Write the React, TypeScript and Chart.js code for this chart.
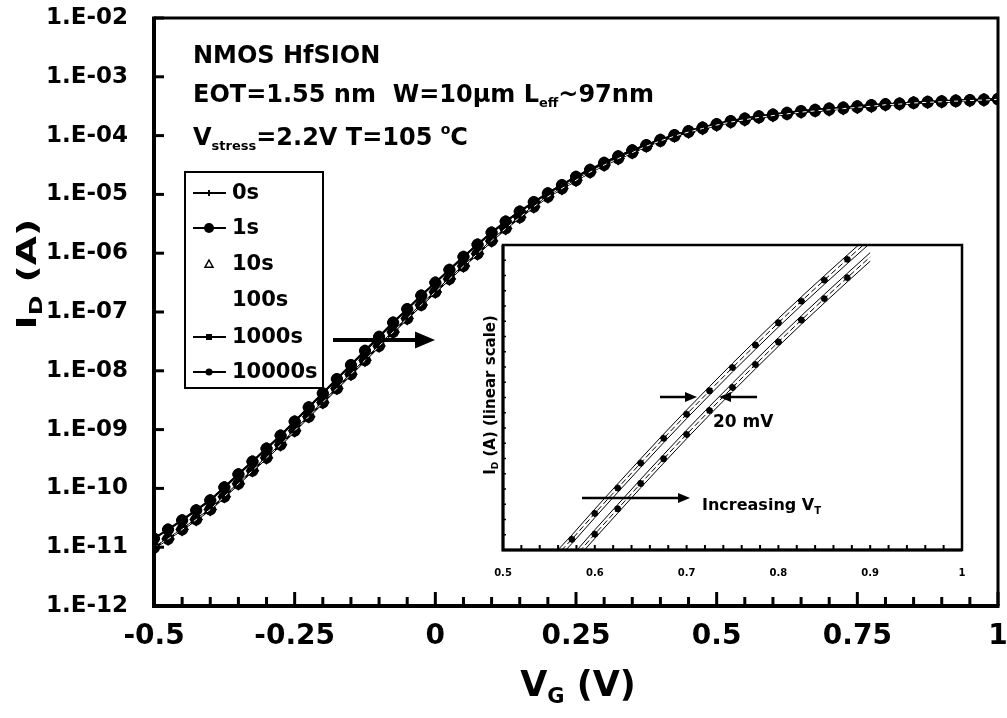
import React, { useEffect, useRef } from 'react';
import { Chart, registerables } from 'chart.js';

Chart.register(...registerables);

const FONT = '"DejaVu Sans", "Liberation Sans", sans-serif';

// ---------- main chart data ----------
const vg = [
  -0.5, -0.475, -0.45, -0.425, -0.4, -0.375, -0.35, -0.325, -0.3, -0.275,
  -0.25, -0.225, -0.2, -0.175, -0.15, -0.125, -0.1, -0.075, -0.05, -0.025,
  0, 0.025, 0.05, 0.075, 0.1, 0.125, 0.15, 0.175, 0.2, 0.225,
  0.25, 0.275, 0.3, 0.325, 0.35, 0.375, 0.4, 0.425, 0.45, 0.475,
  0.5, 0.525, 0.55, 0.575, 0.6, 0.625, 0.65, 0.675, 0.7, 0.725,
  0.75, 0.775, 0.8, 0.825, 0.85, 0.875, 0.9, 0.925, 0.95, 0.975, 1.0,
];

// before stress (0s, 1s, 10s)
const idFresh = [
  1.41e-11, 2.0e-11, 2.88e-11, 4.27e-11, 6.31e-11, 1.05e-10, 1.74e-10, 2.88e-10, 4.79e-10, 7.94e-10,
  1.38e-9, 2.4e-9, 4.17e-9, 7.24e-9, 1.26e-8, 2.19e-8, 3.8e-8, 6.61e-8, 1.12e-7, 1.91e-7,
  3.16e-7, 5.25e-7, 8.71e-7, 1.41e-6, 2.24e-6, 3.47e-6, 5.13e-6, 7.41e-6, 1.05e-5, 1.45e-5,
  2.0e-5, 2.63e-5, 3.47e-5, 4.47e-5, 5.62e-5, 6.92e-5, 8.51e-5, 1.02e-4, 1.2e-4, 1.38e-4,
  1.58e-4, 1.78e-4, 1.95e-4, 2.14e-4, 2.29e-4, 2.45e-4, 2.63e-4, 2.75e-4, 2.88e-4, 3.02e-4,
  3.16e-4, 3.31e-4, 3.43e-4, 3.51e-4, 3.67e-4, 3.76e-4, 3.85e-4, 3.94e-4, 4.03e-4, 4.12e-4, 4.22e-4,
];

// after stress (100s, 1000s, 10000s)
const idStressed = [
  9.77e-12, 1.38e-11, 2.0e-11, 2.95e-11, 4.37e-11, 7.24e-11, 1.2e-10, 2.0e-10, 3.31e-10, 5.5e-10,
  9.55e-10, 1.66e-9, 2.88e-9, 5.01e-9, 8.71e-9, 1.51e-8, 2.63e-8, 4.57e-8, 7.76e-8, 1.32e-7,
  2.19e-7, 3.63e-7, 6.03e-7, 9.77e-7, 1.62e-6, 2.63e-6, 4.07e-6, 6.17e-6, 9.12e-6, 1.26e-5,
  1.74e-5, 2.4e-5, 3.16e-5, 4.07e-5, 5.13e-5, 6.61e-5, 8.13e-5, 9.77e-5, 1.15e-4, 1.32e-4,
  1.51e-4, 1.7e-4, 1.86e-4, 2.04e-4, 2.19e-4, 2.34e-4, 2.51e-4, 2.63e-4, 2.75e-4, 2.88e-4,
  3.02e-4, 3.16e-4, 3.35e-4, 3.43e-4, 3.59e-4, 3.68e-4, 3.76e-4, 3.85e-4, 3.94e-4, 4.03e-4, 4.12e-4,
];

const seriesNames = ['0s', '1s', '10s', '100s', '1000s', '10000s'];

const yTickValues = [1e-12, 1e-11, 1e-10, 1e-9, 1e-8, 1e-7, 1e-6, 1e-5, 1e-4, 1e-3, 1e-2];
const yTickLabels = ['1.E-12', '1.E-11', '1.E-10', '1.E-09', '1.E-08', '1.E-07', '1.E-06', '1.E-05', '1.E-04', '1.E-03', '1.E-02'];
const xTickValues = [-0.5, -0.25, 0, 0.25, 0.5, 0.75, 1];
const xTickLabels = ['-0.5', '-0.25', '0', '0.25', '0.5', '0.75', '1'];

// ---------- inset data (linear scale, arbitrary units) ----------
const insetVg = [0.55, 0.575, 0.6, 0.625, 0.65, 0.675, 0.7, 0.725, 0.75, 0.775, 0.8, 0.825, 0.85, 0.875, 0.9];
const insetFreshUpper = [-3.1, 4.9, 13.4, 21.7, 29.9, 38.0, 45.9, 53.6, 61.2, 68.6, 75.9, 83.0, 89.9, 96.7, 103.4];
const insetFresh = [-4.5, 3.5, 12.0, 20.3, 28.5, 36.6, 44.5, 52.2, 59.8, 67.2, 74.5, 81.6, 88.5, 95.3, 102.0];
const insetFreshLower = [-5.9, 2.1, 10.6, 18.9, 27.1, 35.2, 43.1, 50.8, 58.4, 65.8, 73.1, 80.2, 87.1, 93.9, 100.6];
const insetStressedUpper = [-10.1, -1.9, 6.6, 14.9, 23.2, 31.3, 39.3, 47.1, 54.7, 62.2, 69.6, 76.8, 83.8, 90.7, 97.5];
const insetStressed = [-11.5, -3.3, 5.2, 13.5, 21.8, 29.9, 37.9, 45.7, 53.3, 60.8, 68.2, 75.4, 82.4, 89.3, 96.1];
const insetStressedLower = [-12.9, -4.7, 3.8, 12.1, 20.4, 28.5, 36.5, 44.3, 51.9, 59.4, 66.8, 74.0, 81.0, 87.9, 94.7];
const insetTickValues = [0.5, 0.6, 0.7, 0.8, 0.9, 1];
const insetTickLabels = ['0.5', '0.6', '0.7', '0.8', '0.9', '1'];

type Run = { t: string; size: number; dy?: number };

function measureRuns(ctx: CanvasRenderingContext2D, runs: Run[]) {
  let w = 0;
  for (const r of runs) {
    ctx.font = `bold ${r.size}px ${FONT}`;
    w += ctx.measureText(r.t).width;
  }
  return w;
}

function drawRuns(ctx: CanvasRenderingContext2D, x: number, y: number, runs: Run[]) {
  let cx = x;
  for (const r of runs) {
    ctx.font = `bold ${r.size}px ${FONT}`;
    ctx.fillText(r.t, cx, y + (r.dy || 0));
    cx += ctx.measureText(r.t).width;
  }
  return cx - x;
}

function arrow(ctx: CanvasRenderingContext2D, x1: number, x2: number, y: number, lw: number, hl: number, hw: number) {
  const dir = x2 > x1 ? 1 : -1;
  ctx.lineWidth = lw;
  ctx.beginPath();
  ctx.moveTo(x1, y);
  ctx.lineTo(x2 - dir * hl * 0.8, y);
  ctx.stroke();
  ctx.beginPath();
  ctx.moveTo(x2, y);
  ctx.lineTo(x2 - dir * hl, y - hw / 2);
  ctx.lineTo(x2 - dir * hl, y + hw / 2);
  ctx.closePath();
  ctx.fill();
}

function marker(ctx: CanvasRenderingContext2D, style: string, x: number, y: number, r: number) {
  ctx.save();
  ctx.fillStyle = '#000';
  ctx.strokeStyle = '#000';
  ctx.lineWidth = 2;
  if (style === 'circle') {
    ctx.beginPath();
    ctx.arc(x, y, r, 0, Math.PI * 2);
    ctx.fill();
  } else if (style === 'cross') {
    ctx.beginPath();
    ctx.moveTo(x - r, y);
    ctx.lineTo(x + r, y);
    ctx.moveTo(x, y - r);
    ctx.lineTo(x, y + r);
    ctx.stroke();
  } else if (style === 'rect') {
    ctx.fillRect(x - r, y - r, 2 * r, 2 * r);
  } else if (style === 'triangle') {
    ctx.lineWidth = 1.5;
    ctx.beginPath();
    ctx.moveTo(x, y - r);
    ctx.lineTo(x + r, y + r * 0.8);
    ctx.lineTo(x - r, y + r * 0.8);
    ctx.closePath();
    ctx.stroke();
  }
  ctx.restore();
}

const legendItems = [
  { line: true, style: 'cross', r: 3 },
  { line: true, style: 'circle', r: 5 },
  { line: false, style: 'triangle', r: 4 },
  { line: false, style: 'none', r: 0 },
  { line: true, style: 'rect', r: 3 },
  { line: true, style: 'circle', r: 3.5 },
];
const legendRowsY = [193, 228, 264, 300, 337, 372];

const mainDecor = {
  id: 'mainDecor',
  afterDraw(chart: any) {
    const ctx: CanvasRenderingContext2D = chart.ctx;
    const { left, right, top, bottom } = chart.chartArea;
    const xs = chart.scales.x;
    const ys = chart.scales.y;
    ctx.save();
    ctx.fillStyle = '#000';
    ctx.strokeStyle = '#000';
    ctx.lineCap = 'butt';

    // frame
    ctx.lineWidth = 3;
    ctx.beginPath();
    ctx.moveTo(left, top);
    ctx.lineTo(right, top);
    ctx.lineTo(right, bottom);
    ctx.stroke();
    ctx.lineWidth = 4;
    ctx.beginPath();
    ctx.moveTo(left, top - 1.5);
    ctx.lineTo(left, bottom);
    ctx.lineTo(right + 1.5, bottom);
    ctx.stroke();

    // y ticks (inward)
    ctx.lineWidth = 3;
    for (const v of yTickValues) {
      const py = ys.getPixelForValue(v);
      ctx.beginPath();
      ctx.moveTo(left, py);
      ctx.lineTo(left + 10, py);
      ctx.stroke();
    }
    // x ticks (inward), every 0.05 V
    for (let i = 0; i <= 30; i++) {
      const v = -0.5 + i * 0.05;
      const px = xs.getPixelForValue(v);
      const len = i % 5 === 0 ? 14 : 9;
      ctx.beginPath();
      ctx.moveTo(px, bottom);
      ctx.lineTo(px, bottom - len);
      ctx.stroke();
    }

    ctx.textBaseline = 'alphabetic';
    ctx.textAlign = 'left';

    // x title
    const xt: Run[] = [
      { t: 'V', size: 35 },
      { t: 'G', size: 21, dy: 7 },
      { t: ' (V)', size: 35 },
    ];
    const xw = measureRuns(ctx, xt);
    drawRuns(ctx, 578 - xw / 2, 696, xt);

    // y title (rotated, stretched along the text direction as in the original)
    const yt: Run[] = [
      { t: 'I', size: 27 },
      { t: 'D', size: 17, dy: 6 },
      { t: ' (A)', size: 27 },
    ];
    const yw = measureRuns(ctx, yt);
    ctx.save();
    ctx.translate(26, 274);
    ctx.rotate(-Math.PI / 2);
    ctx.scale(1.4, 1);
    drawRuns(ctx, -yw / 2, 10, yt);
    ctx.restore();

    // annotations
    drawRuns(ctx, 193, 63, [{ t: 'NMOS HfSION', size: 24 }]);
    drawRuns(ctx, 193, 102, [
      { t: 'EOT=1.55 nm  W=10\u03bcm L', size: 24 },
      { t: 'eff', size: 13, dy: 5 },
      { t: '~97nm', size: 24 },
    ]);
    drawRuns(ctx, 193, 145, [
      { t: 'V', size: 24 },
      { t: 'stress', size: 13, dy: 5 },
      { t: '=2.2V T=105 ', size: 24 },
      { t: 'o', size: 14, dy: -11 },
      { t: 'C', size: 24 },
    ]);

    // legend
    ctx.fillStyle = '#fff';
    ctx.fillRect(185, 172, 138, 216);
    ctx.fillStyle = '#000';
    ctx.lineWidth = 2;
    ctx.strokeRect(185, 172, 138, 216);
    seriesNames.forEach((name, i) => {
      const it = legendItems[i];
      const y = legendRowsY[i];
      if (it.line) {
        ctx.lineWidth = 2;
        ctx.beginPath();
        ctx.moveTo(193, y);
        ctx.lineTo(226, y);
        ctx.stroke();
      }
      marker(ctx, it.style, 209, y, it.r);
      ctx.textBaseline = 'middle';
      drawRuns(ctx, 232, y + 1, [{ t: name, size: 21 }]);
      ctx.textBaseline = 'alphabetic';
    });

    // arrow pointing to the inset region
    ctx.strokeStyle = '#000';
    arrow(ctx, 333, 435, 340, 4, 20, 17);

    ctx.restore();
  },
};

const insetDecor = {
  id: 'insetDecor',
  afterDraw(chart: any) {
    const ctx: CanvasRenderingContext2D = chart.ctx;
    const { left, right, top, bottom } = chart.chartArea;
    const xs = chart.scales.x;
    const ys = chart.scales.y;
    ctx.save();
    ctx.fillStyle = '#000';
    ctx.strokeStyle = '#000';

    ctx.lineWidth = 2.5;
    ctx.strokeRect(left, top, right - left, bottom - top);
    ctx.lineWidth = 3;
    ctx.beginPath();
    ctx.moveTo(left, top);
    ctx.lineTo(left, bottom);
    ctx.lineTo(right, bottom);
    ctx.stroke();

    ctx.lineWidth = 2;
    for (let i = 0; i <= 25; i++) {
      const px = xs.getPixelForValue(0.5 + i * 0.02);
      ctx.beginPath();
      ctx.moveTo(px, bottom);
      ctx.lineTo(px, bottom - 5);
      ctx.stroke();
    }
    ctx.lineWidth = 1.5;
    for (let i = 0; i <= 20; i++) {
      const py = ys.getPixelForValue(i * 5);
      ctx.beginPath();
      ctx.moveTo(left, py);
      ctx.lineTo(left + 3, py);
      ctx.stroke();
    }

    ctx.textBaseline = 'alphabetic';
    // y title rotated
    const yt: Run[] = [
      { t: 'I', size: 15 },
      { t: 'D', size: 9, dy: 3 },
      { t: ' (A) (linear scale)', size: 15 },
    ];
    const yw = measureRuns(ctx, yt);
    ctx.save();
    ctx.translate(20, 160);
    ctx.rotate(-Math.PI / 2);
    drawRuns(ctx, -yw / 2, 5, yt);
    ctx.restore();

    // 20 mV arrows
    arrow(ctx, 190, 227, 162, 2.5, 12, 10);
    arrow(ctx, 287, 249, 162, 2.5, 12, 10);
    drawRuns(ctx, 243, 192, [{ t: '20 mV', size: 17 }]);

    // increasing VT
    arrow(ctx, 112, 220, 263, 2.5, 12, 10);
    drawRuns(ctx, 232, 275, [
      { t: 'Increasing V', size: 16 },
      { t: 'T', size: 10, dy: 4 },
    ]);
    ctx.restore();
  },
};

function MainChart() {
  const ref = useRef<HTMLCanvasElement>(null);
  useEffect(() => {
    const pts = (ys: number[]) => vg.map((x, i) => ({ x, y: ys[i] }));
    const chart = new Chart(ref.current as HTMLCanvasElement, {
      type: 'line',
      data: {
        datasets: [
          { label: seriesNames[0], data: pts(idFresh), borderColor: '#000', backgroundColor: '#000', borderWidth: 2, pointStyle: 'cross', pointRadius: 6, pointBorderWidth: 3, order: 4 },
          { label: seriesNames[1], data: pts(idFresh), borderColor: '#000', backgroundColor: '#000', borderWidth: 2, pointStyle: 'circle', pointRadius: 5, order: 3 },
          { label: seriesNames[2], data: pts(idFresh), showLine: false, borderColor: '#000', backgroundColor: '#fff', pointStyle: 'triangle', pointRadius: 4, pointBorderWidth: 1.5, order: 6 },
          { label: seriesNames[3], data: pts(idStressed), borderColor: '#fff', backgroundColor: '#fff', borderWidth: 1, borderDash: [4, 4], pointRadius: 0, order: 0 },
          { label: seriesNames[4], data: pts(idStressed), borderColor: '#000', backgroundColor: '#000', borderWidth: 2, pointStyle: 'rectRot', pointRadius: 5.5, order: 2 },
          { label: seriesNames[5], data: pts(idStressed), borderColor: '#000', backgroundColor: '#000', borderWidth: 2, pointStyle: 'circle', pointRadius: 5, order: 1 },
        ],
      },
      options: {
        animation: false,
        responsive: false,
        devicePixelRatio: 1,
        events: [],
        layout: { padding: { top: 18, right: 4, left: 0, bottom: 0 } },
        plugins: { legend: { display: false }, tooltip: { enabled: false } },
        scales: {
          x: {
            type: 'linear',
            min: -0.5,
            max: 1,
            grid: { display: false, drawTicks: false },
            border: { display: false },
            afterBuildTicks: (s: any) => { s.ticks = xTickValues.map((v) => ({ value: v })); },
            afterFit: (s: any) => { s.height = 112; s.paddingLeft = 0; s.paddingRight = 0; },
            ticks: {
              autoSkip: false,
              maxRotation: 0,
              padding: 14,
              color: '#000',
              font: { family: FONT, size: 28, weight: 'bold' },
              callback: (_v: any, i: number) => xTickLabels[i],
            },
          },
          y: {
            type: 'logarithmic',
            min: 1e-12,
            max: 1e-2,
            grid: { display: false, drawTicks: false },
            border: { display: false },
            afterBuildTicks: (s: any) => { s.ticks = yTickValues.map((v) => ({ value: v })); },
            afterFit: (s: any) => { s.width = 154; s.paddingTop = 0; s.paddingBottom = 0; },
            ticks: {
              autoSkip: false,
              padding: 26,
              color: '#000',
              font: { family: FONT, size: 23, weight: 'bold' },
              callback: (_v: any, i: number) => yTickLabels[i],
            },
          },
        },
      } as any,
      plugins: [mainDecor],
    });
    return () => chart.destroy();
  }, []);
  return <canvas ref={ref} width={1007} height={718} style={{ position: 'absolute', left: 0, top: 0 }} />;
}

function InsetChart() {
  const ref = useRef<HTMLCanvasElement>(null);
  useEffect(() => {
    const pts = (ys: number[]) => insetVg.map((x, i) => ({ x, y: ys[i] }));
    const radii = insetVg.map((_v, i) => (i === 0 || i === insetVg.length - 1 ? 0 : 3.5));
    const thin = (d: number[]) => ({ data: pts(d), borderColor: '#000', borderWidth: 1, pointRadius: 0 });
    const mid = (d: number[]) => ({
      data: pts(d),
      borderColor: '#000',
      backgroundColor: '#000',
      borderWidth: 1,
      borderDash: [6, 3],
      pointStyle: 'star',
      pointRadius: radii,
      pointBorderWidth: 2,
    });
    const chart = new Chart(ref.current as HTMLCanvasElement, {
      type: 'line',
      data: {
        datasets: [
          { label: 'fresh upper', ...thin(insetFreshUpper) },
          { label: 'fresh', ...mid(insetFresh) },
          { label: 'fresh lower', ...thin(insetFreshLower) },
          { label: 'stressed upper', ...thin(insetStressedUpper) },
          { label: 'stressed', ...mid(insetStressed) },
          { label: 'stressed lower', ...thin(insetStressedLower) },
        ],
      },
      options: {
        animation: false,
        responsive: false,
        devicePixelRatio: 1,
        events: [],
        layout: { padding: { top: 10, right: 8, left: 0, bottom: 0 } },
        plugins: { legend: { display: false }, tooltip: { enabled: false } },
        scales: {
          x: {
            type: 'linear',
            min: 0.5,
            max: 1,
            grid: { display: false, drawTicks: false },
            border: { display: false },
            afterBuildTicks: (s: any) => { s.ticks = insetTickValues.map((v) => ({ value: v })); },
            afterFit: (s: any) => { s.height = 45; s.paddingLeft = 0; s.paddingRight = 0; },
            ticks: {
              autoSkip: false,
              maxRotation: 0,
              padding: 17,
              color: '#000',
              font: { family: FONT, size: 10, weight: 'bold' },
              callback: (_v: any, i: number) => insetTickLabels[i],
            },
          },
          y: {
            type: 'linear',
            min: 0,
            max: 100,
            grid: { display: false, drawTicks: false },
            border: { display: false },
            ticks: { display: false },
            afterFit: (s: any) => { s.width = 33; s.paddingTop = 0; s.paddingBottom = 0; },
          },
        },
      } as any,
      plugins: [insetDecor],
    });
    return () => chart.destroy();
  }, []);
  return <canvas ref={ref} width={500} height={360} style={{ position: 'absolute', left: 470, top: 235 }} />;
}

export default function App() {
  return (
    <div style={{ position: 'absolute', left: 0, top: 0, width: 1007, height: 718, background: '#fff', overflow: 'hidden' }}>
      <MainChart />
      <InsetChart />
    </div>
  );
}
